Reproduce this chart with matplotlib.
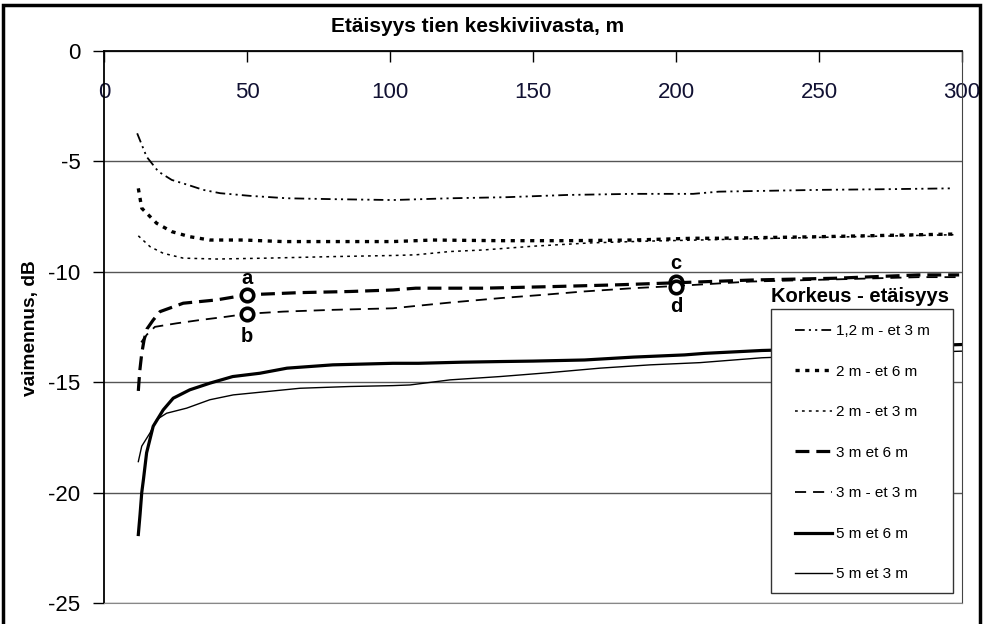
import matplotlib
matplotlib.use("Agg")
import matplotlib.pyplot as plt
from matplotlib.patches import Rectangle

plt.rcParams["font.family"] = ["Liberation Sans", "DejaVu Sans"]
plt.rcParams["axes.unicode_minus"] = False
plt.rcParams["lines.scale_dashes"] = False

# --- data: attenuation (dB) vs distance from road centre line (m) ---
x_12_3 = [11.6, 14.9, 19, 23.7, 29.5, 34.7, 40.6, 51, 64, 80, 101, 121, 141, 162, 185, 206, 215, 250, 273, 297]
y_12_3 = [-3.74, -4.8, -5.47, -5.85, -6.08, -6.3, -6.45, -6.57, -6.68, -6.72, -6.76, -6.68, -6.63, -6.53,
          -6.48, -6.48, -6.38, -6.3, -6.27, -6.23]

x_2_6 = [12, 13.2, 18.4, 23.7, 30, 37, 48.7, 62.7, 80, 101, 115, 138.5, 162, 185, 206, 215, 250, 297]
y_2_6 = [-6.23, -7.13, -7.81, -8.19, -8.42, -8.57, -8.57, -8.64, -8.64, -8.64, -8.57, -8.6, -8.6, -8.57,
         -8.49, -8.49, -8.42, -8.3]

x_2_3 = [12, 16.1, 20.7, 27.7, 39.4, 56.9, 80, 101, 109, 121, 132.6, 150, 170, 190, 215, 250, 297]
y_2_3 = [-8.38, -8.87, -9.17, -9.39, -9.43, -9.39, -9.32, -9.27, -9.24, -9.09, -9.02, -8.85, -8.7, -8.62,
         -8.55, -8.45, -8.33]

x_3_6 = [12, 12.5, 13.2, 14, 15, 17.2, 19.6, 27.7, 39.4, 49.9, 68.5, 86, 101, 109, 132.6, 156, 179, 196.7,
         226.5, 255.6, 284.7, 299]
y_3_6 = [-15.4, -14.5, -13.7, -13.1, -12.6, -12.19, -11.81, -11.43, -11.28, -11.05, -10.95, -10.9, -10.83,
         -10.75, -10.75, -10.68, -10.6, -10.52, -10.38, -10.3, -10.15, -10.15]

x_3_3 = [13, 15, 17.8, 25.4, 33.6, 42.9, 49.9, 62.7, 80, 101, 107, 121, 138.5, 153.6, 167.6, 185, 200, 226,
         256, 285, 299]
y_3_3 = [-13.2, -12.85, -12.5, -12.34, -12.19, -12.04, -11.91, -11.81, -11.73, -11.66, -11.58, -11.4, -11.2,
         -11.05, -10.9, -10.75, -10.65, -10.45, -10.35, -10.25, -10.25]

x_5_6 = [12, 12.6, 13.2, 13.8, 14.9, 17.2, 20.7, 24.2, 30, 37, 45, 54.5, 64, 80, 101, 110, 125, 139, 150,
         168, 185, 203, 210, 230, 250, 275, 300]
y_5_6 = [-21.9, -21.0, -20.0, -19.4, -18.2, -17.0, -16.26, -15.73, -15.35, -15.05, -14.75, -14.6, -14.37,
         -14.22, -14.15, -14.15, -14.1, -14.07, -14.05, -14.0, -13.87, -13.77, -13.7, -13.57, -13.5, -13.4, -13.3]

x_5_3 = [12, 13.2, 16.1, 18.4, 21.9, 28.9, 37, 45.2, 56.9, 68.5, 86, 101, 107, 121, 138.5, 156, 173.4, 191,
         208.4, 230, 250, 275, 300]
y_5_3 = [-18.6, -17.9, -17.3, -16.7, -16.41, -16.18, -15.8, -15.58, -15.43, -15.28, -15.2, -15.16, -15.13,
         -14.9, -14.75, -14.57, -14.37, -14.22, -14.12, -13.9, -13.8, -13.7, -13.6]

point_names = ["a", "b", "c", "d"]
point_x = [50, 50, 200, 200]
point_y = [-11.05, -11.9, -10.45, -10.68]
point_label_y = [-10.3, -12.95, -9.65, -11.6]

series_labels = ["1,2 m - et 3 m", "2 m - et 6 m", "2 m - et 3 m", "3 m et 6 m",
                 "3 m - et 3 m", "5 m et 6 m", "5 m et 3 m"]

x_ticks = [0, 50, 100, 150, 200, 250, 300]
y_ticks = [0, -5, -10, -15, -20, -25]

# --- figure ---
W, H = 985, 624
fig = plt.figure(figsize=(W / 100, H / 100), dpi=100)
ax = fig.add_axes([104 / W, 1 - 603 / H, (962 - 104) / W, (603 - 50.7) / H])

styles = [
    dict(lw=1.3, dashes=(7, 3, 1.5, 3, 1.5, 3)),
    dict(lw=2.4, dashes=(3, 4)),
    dict(lw=1.1, dashes=(2, 3)),
    dict(lw=2.3, dashes=(10, 5)),
    dict(lw=1.3, dashes=(8, 5)),
    dict(lw=2.3),
    dict(lw=1.0),
]
series = [(x_12_3, y_12_3), (x_2_6, y_2_6), (x_2_3, y_2_3), (x_3_6, y_3_6),
          (x_3_3, y_3_3), (x_5_6, y_5_6), (x_5_3, y_5_3)]

handles = []
for (xs, ys), st, lab in zip(series, styles, series_labels):
    h, = ax.plot(xs, ys, color="black", label=lab, zorder=2, **st)
    handles.append(h)

ax.plot(point_x, point_y, linestyle="none", marker="o", ms=9, mfc="white",
        mec="black", mew=2.6, zorder=3)
for n, px, py in zip(point_names, point_x, point_label_y):
    ax.text(px, py, n, ha="center", va="center", fontsize=14.5, fontweight="bold", zorder=3)

ax.set_xlim(0, 300)
ax.set_ylim(-25, 0)
ax.set_xticks(x_ticks)
ax.set_yticks(y_ticks)
ax.xaxis.tick_top()
ax.tick_params(axis="x", direction="in", length=8, width=1, pad=-38, labelsize=16,
               labelcolor="#111133")
ax.tick_params(axis="y", direction="out", length=8, width=1, pad=9, labelsize=16)
ax.yaxis.grid(True, color="#555555", lw=1)
ax.set_axisbelow(True)

for side in ("top", "left"):
    ax.spines[side].set_color("black")
    ax.spines[side].set_linewidth(1.3)
ax.spines["right"].set_color("#444444")
ax.spines["bottom"].set_color("#888888")

# legend frame, title and entries
ax.add_patch(Rectangle((771 / W, 1 - 593 / H), (953 - 771) / W, (593 - 309) / H,
                       transform=fig.transFigure, fc="white", ec="#333333", lw=1.0,
                       zorder=4, clip_on=False))
ax.legend(handles, series_labels, loc="upper left", bbox_to_anchor=(795 / W, 1 - 324 / H),
          bbox_transform=fig.transFigure, frameon=False, borderpad=0, borderaxespad=0,
          handlelength=2.4, handletextpad=0.3, labelspacing=1.74, prop={"size": 11})
fig.text(860 / W, 1 - 297 / H, "Korkeus - etäisyys", ha="center", va="center",
         fontsize=14.5, fontweight="bold")

fig.text(478 / W, 1 - 26 / H, "Etäisyys tien keskiviivasta, m", ha="center", va="center",
         fontsize=15, fontweight="bold")
fig.text(31 / W, 1 - 328 / H, "vaimennus, dB", ha="center", va="center", rotation=90,
         fontsize=13.8, fontweight="bold")

fig.add_artist(Rectangle((3 / W, -0.05), (980 - 3) / W, 1.05 - 5 / H, transform=fig.transFigure,
                         fill=False, ec="black", lw=2.5))

fig.savefig("out.png", dpi=100)
